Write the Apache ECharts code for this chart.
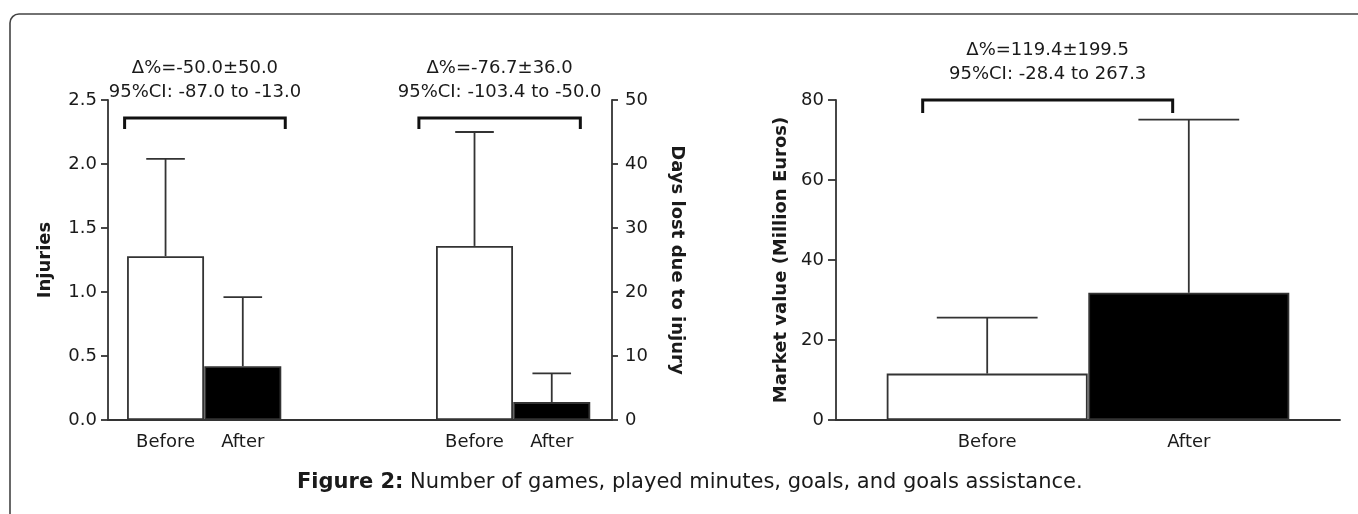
<!DOCTYPE html>
<html>
<head>
<meta charset="utf-8">
<script src="https://cdn.jsdelivr.net/npm/echarts@6/dist/echarts.min.js"></script>
<style>
html,body{margin:0;padding:0;background:#fff;}
#chart{width:1358px;height:514px;}
</style>
</head>
<body>
<div id="chart"></div>
<script>
// ---------- data ----------
const periods = ['Before', 'After'];
// left combined panel: slot labels (blank slots form the gap between the two measures)
const leftSlots = ['Before', 'After', '', '', 'Before', 'After'];
const injuriesMean = [1.28, 0.42];
const injuriesSD = [0.76, 0.54];
const daysMean = [27.2, 2.8];
const daysSD = [17.8, 4.5];
const marketMean = [11.6, 31.8];
const marketSD = [14.0, 43.3];
const injuriesTicks = [0, 0.5, 1.0, 1.5, 2.0, 2.5];
const daysTicks = [0, 10, 20, 30, 40, 50];
const marketTicks = [0, 20, 40, 60, 80];
const deltaLabels = ['\u0394%=-50.0\u00b150.0', '\u0394%=-76.7\u00b136.0', '\u0394%=119.4\u00b1199.5'];
const ciLabels = ['95%CI: -87.0 to -13.0', '95%CI: -103.4 to -50.0', '95%CI: -28.4 to 267.3'];
const captionBold = 'Figure 2:';
const captionText = ' Number of games, played minutes, goals, and goals assistance.';

// ---------- layout helpers ----------
const FONT = 'DejaVu Sans';
const INK = '#1a1a1a';
const AX = '#333';
const slotIndex = (name, occurrence) => {
  let n = 0;
  for (let i = 0; i < leftSlots.length; i++) {
    if (leftSlots[i] === name) { if (n === occurrence) return i; n++; }
  }
  return -1;
};
const injuriesX = periods.map(p => slotIndex(p, 0));
const daysX = periods.map(p => slotIndex(p, 1));
const marketX = periods.map((p, i) => i);
const leftLabelValues = leftSlots.map((c, i) => c ? i : null).filter(v => v !== null);

// bracket spans (axis units) for annotation brackets: [xStart, xEnd, yTop]
const bracketSpans = [
  { x: 0, y: 0, span: [-0.53, 1.55, 2.36], leg: 11 },
  { x: 0, y: 1, span: [3.28, 5.37, 47.2], leg: 11 },
  { x: 1, y: 2, span: [-0.32, 0.92, 80], leg: 13 }
];

const fillColor = (params) => params.dataIndex === 0 ? '#ffffff' : '#000000';

function errorRender(params, api) {
  const x = api.value(0), m = api.value(1), sd = api.value(2);
  const base = api.coord([x, m]);
  const top = api.coord([x, m + sd]);
  const half = api.size([1, 0])[0] * 0.25;
  const st = { stroke: AX, lineWidth: 1.8 };
  return {
    type: 'group',
    children: [
      { type: 'line', shape: { x1: base[0], y1: base[1], x2: top[0], y2: top[1] }, style: st },
      { type: 'line', shape: { x1: top[0] - half, y1: top[1], x2: top[0] + half, y2: top[1] }, style: st }
    ]
  };
}

function bracketRender(legLen) {
  return function (params, api) {
    const p0 = api.coord([api.value(0), api.value(2)]);
    const p1 = api.coord([api.value(1), api.value(2)]);
    const idx = api.value(3);
    const cx = (p0[0] + p1[0]) / 2;
    const y = p0[1];
    return {
      type: 'group',
      children: [
        { type: 'polyline', shape: { points: [[p0[0], y + legLen], [p0[0], y], [p1[0], y], [p1[0], y + legLen]] },
          style: { stroke: '#111', lineWidth: 3, fill: null } },
        { type: 'text', style: { text: deltaLabels[idx], x: cx, y: y - 50, align: 'center', verticalAlign: 'middle',
          font: '18px "' + FONT + '"', fill: INK } },
        { type: 'text', style: { text: ciLabels[idx], x: cx, y: y - 26, align: 'center', verticalAlign: 'middle',
          font: '18px "' + FONT + '"', fill: INK } }
      ]
    };
  };
}

const yAxisBase = (extra) => Object.assign({
  type: 'value',
  splitLine: { show: false },
  axisLine: { show: true, onZero: false, lineStyle: { color: AX, width: 1.8 } },
  axisTick: { show: true, inside: false, length: 7, lineStyle: { color: AX, width: 1.8 } },
  axisLabel: { color: INK, fontSize: 18, fontFamily: FONT, margin: 11 },
  nameLocation: 'middle',
  nameTextStyle: { color: INK, fontSize: 18, fontWeight: 'bold', fontFamily: FONT }
}, extra);

const xAxisBase = (extra) => Object.assign({
  type: 'value',
  splitLine: { show: false },
  axisLine: { show: true, onZero: false, lineStyle: { color: AX, width: 1.8 } },
  axisTick: { show: false }
}, extra);

const barStyle = { color: fillColor, borderColor: AX, borderWidth: 1.8 };

const option = {
  animation: false,
  backgroundColor: '#ffffff',
  textStyle: { fontFamily: FONT },
  title: {
    text: '{b|' + captionBold + '}{r|' + captionText + '}',
    left: 297,
    top: 472,
    padding: 0,
    textStyle: {
      fontWeight: 'normal',
      rich: {
        b: { fontFamily: FONT, fontSize: 21, fontWeight: 'bold', color: INK },
        r: { fontFamily: FONT, fontSize: 21, fontWeight: 'normal', color: INK }
      }
    }
  },
  graphic: [
    { type: 'rect', silent: true, z: -1,
      shape: { x: 10, y: 14, width: 1500, height: 700, r: 9 },
      style: { fill: null, stroke: '#444', lineWidth: 1.6 } }
  ],
  grid: [
    { left: 108, right: 746, top: 100, bottom: 94 },
    { left: 836, right: 18, top: 100, bottom: 94 }
  ],
  xAxis: [
    xAxisBase({ gridIndex: 0, min: -0.745, max: 5.78,
      axisLabel: { customValues: leftLabelValues, formatter: v => leftSlots[Math.round(v)],
        color: INK, fontSize: 18, fontFamily: FONT, margin: 13 } }),
    xAxisBase({ gridIndex: 1, min: -0.75, max: 1.75,
      axisLabel: { customValues: marketX, formatter: v => periods[Math.round(v)],
        color: INK, fontSize: 18, fontFamily: FONT, margin: 13 } })
  ],
  yAxis: [
    yAxisBase({ gridIndex: 0, position: 'left', min: injuriesTicks[0], max: injuriesTicks[injuriesTicks.length - 1],
      interval: injuriesTicks[1] - injuriesTicks[0], name: 'Injuries', nameGap: 54,
      axisLabel: { color: INK, fontSize: 18, fontFamily: FONT, margin: 11, formatter: v => v.toFixed(1) } }),
    yAxisBase({ gridIndex: 0, position: 'right', min: daysTicks[0], max: daysTicks[daysTicks.length - 1],
      interval: daysTicks[1] - daysTicks[0], name: 'Days lost due to injury', nameGap: 56, nameRotate: -90,
      axisTick: { show: true, inside: false, length: 6, lineStyle: { color: AX, width: 1.8 } },
      axisLabel: { color: INK, fontSize: 18, fontFamily: FONT, margin: 13 } }),
    yAxisBase({ gridIndex: 1, position: 'left', min: marketTicks[0], max: marketTicks[marketTicks.length - 1],
      interval: marketTicks[1] - marketTicks[0], name: 'Market value (Million Euros)', nameGap: 46,
      axisTick: { show: true, inside: false, length: 8, lineStyle: { color: AX, width: 1.8 } },
      axisLabel: { color: INK, fontSize: 18, fontFamily: FONT, margin: 12 } })
  ],
  series: [
    { name: 'Injuries', type: 'bar', xAxisIndex: 0, yAxisIndex: 0, barWidth: 77, barGap: '-100%',
      data: injuriesMean.map((v, i) => [injuriesX[i], v]), itemStyle: barStyle },
    { name: 'Days lost', type: 'bar', xAxisIndex: 0, yAxisIndex: 1, barWidth: 77, barGap: '-100%',
      data: daysMean.map((v, i) => [daysX[i], v]), itemStyle: barStyle },
    { name: 'Market value', type: 'bar', xAxisIndex: 1, yAxisIndex: 2, barWidth: 201,
      data: marketMean.map((v, i) => [marketX[i], v]), itemStyle: barStyle },
    { type: 'custom', xAxisIndex: 0, yAxisIndex: 0, z: 3, renderItem: errorRender,
      data: injuriesMean.map((v, i) => [injuriesX[i], v, injuriesSD[i]]) },
    { type: 'custom', xAxisIndex: 0, yAxisIndex: 1, z: 3, renderItem: errorRender,
      data: daysMean.map((v, i) => [daysX[i], v, daysSD[i]]) },
    { type: 'custom', xAxisIndex: 1, yAxisIndex: 2, z: 3, renderItem: errorRender,
      data: marketMean.map((v, i) => [marketX[i], v, marketSD[i]]) }
  ].concat(bracketSpans.map((b, k) => ({
    type: 'custom', xAxisIndex: b.x, yAxisIndex: b.y, z: 4, clip: false,
    renderItem: bracketRender(b.leg),
    data: [[b.span[0], b.span[1], b.span[2], k]]
  })))
};

const chart = echarts.init(document.getElementById('chart'), null, { renderer: 'canvas' });
chart.setOption(option);
</script>
</body>
</html>
